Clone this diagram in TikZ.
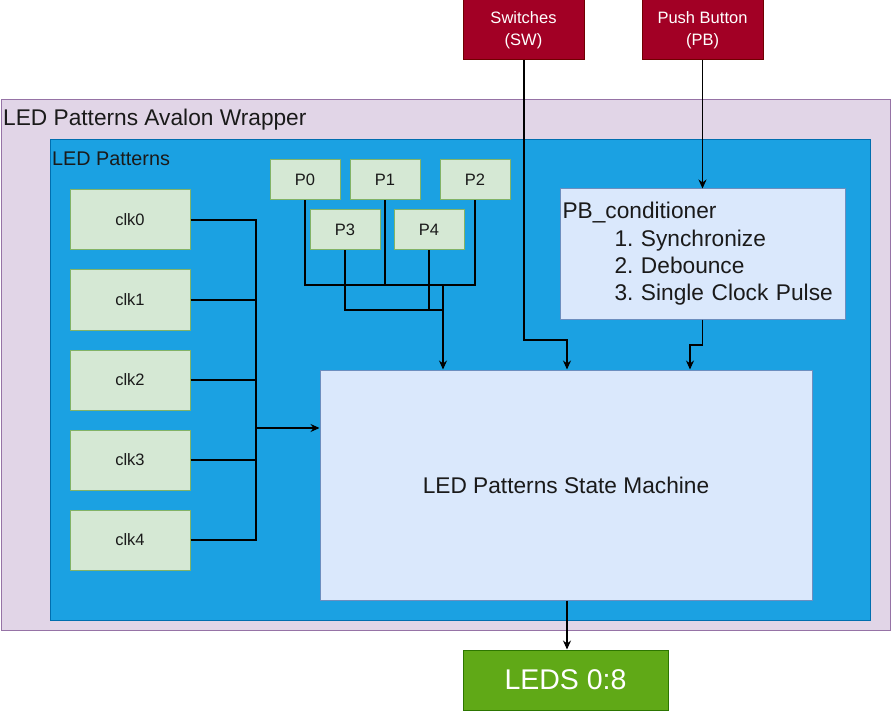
\documentclass[tikz,border=0pt]{standalone}
\usepackage{fontspec}
\setmainfont{Liberation Sans}
\usetikzlibrary{arrows.meta}
\frenchspacing
\definecolor{wrapfill}{HTML}{E1D5E7}
\definecolor{wrapdraw}{HTML}{9673A6}
\definecolor{ledfill}{HTML}{1BA1E2}
\definecolor{leddraw}{HTML}{006EAF}
\definecolor{gfill}{HTML}{D5E8D4}
\definecolor{gdraw}{HTML}{82B366}
\definecolor{bfill}{HTML}{DAE8FC}
\definecolor{bdraw}{HTML}{6C8EBF}
\definecolor{rfill}{HTML}{A20025}
\definecolor{rdraw}{HTML}{6F0000}
\definecolor{lfill}{HTML}{60A917}
\definecolor{ldraw}{HTML}{2D7600}
\definecolor{txt}{HTML}{1A1A1A}
\tikzset{
  smallbox/.style={draw=gdraw, fill=gfill, line width=1pt, minimum width=#1, inner sep=0pt, text=txt,
    font=\fontsize{16.5}{19}\selectfont},
  clkbox/.style={smallbox=120pt, minimum height=60pt},
  pbox/.style={smallbox=70pt, minimum height=40pt},
  bluebox/.style={draw=bdraw, fill=bfill, line width=1pt, inner sep=2pt, text=txt},
  redbox/.style={draw=rdraw, fill=rfill, line width=1pt, minimum width=121pt, minimum height=60pt,
    inner sep=0pt, text=white, align=center, font=\fontsize{16.5}{22}\selectfont},
  conn/.style={line width=1.1pt, draw=black},
  arr/.style={conn, -{Stealth[length=9pt,width=8pt]}},
  title/.style={inner sep=0pt, anchor=west, text=txt}
}
\begin{document}
\begin{tikzpicture}[x=1pt,y=-1pt]
\useasboundingbox (0,0) rectangle (891,711);
% wrapper
\node[draw=wrapdraw, fill=wrapfill, line width=1pt, minimum width=889pt, minimum height=530pt, inner sep=0pt] (wrap) at (445.5,365) {};
\node[title, font=\fontsize{22.7}{27}\selectfont] (wraplbl) at (3,120) {LED Patterns Avalon Wrapper};
% LED patterns
\node[draw=leddraw, fill=ledfill, line width=1pt, minimum width=820pt, minimum height=480pt, inner sep=0pt] (ledp) at (460,380) {};
\node[title, font=\fontsize{19.8}{24}\selectfont] (ledlbl) at (52,159) {LED Patterns};
% clocks
\node[clkbox] (clk0) at (130,220) {clk0};
\node[clkbox] (clk1) at (130,300) {clk1};
\node[clkbox] (clk2) at (130,380) {clk2};
\node[clkbox] (clk3) at (130,460) {clk3};
\node[clkbox] (clk4) at (130,540) {clk4};
% patterns
\node[pbox] (p0) at (305,180) {P0};
\node[pbox] (p1) at (385,180) {P1};
\node[pbox] (p2) at (475,180) {P2};
\node[pbox] (p3) at (345,230) {P3};
\node[pbox] (p4) at (429,230) {P4};
% state machine
\node[bluebox, minimum width=492pt, minimum height=230pt, font=\fontsize{22.7}{27}\selectfont] (sm) at (566,485) {LED Patterns State Machine};
% PB conditioner
\node[bluebox, minimum width=285pt, minimum height=130pt, text width=280pt, align=left,
  font=\fontsize{22.7}{27.3}\selectfont] (pbc) at (702.5,254)
  {PB\_conditioner\\\hspace*{52pt}1. Synchronize\\\hspace*{52pt}2. Debounce\\\hspace*{52pt}3. Single Clock Pulse};
% inputs
\node[redbox] (sw) at (523.5,30) {Switches\\(SW)};
\node[redbox] (pb) at (702.5,30) {Push Button\\(PB)};
% output
\node[draw=ldraw, fill=lfill, line width=1pt, minimum width=205pt, minimum height=60pt, inner sep=0pt,
  text=white, font=\fontsize{28.5}{34}\selectfont] (leds) at (565.5,680) {LEDS 0:8};
% junction coordinates
\coordinate (bus) at (256,428);
\coordinate (pj1) at (443,285);
\coordinate (pj2) at (443,310);
\coordinate (swc) at (567,340);
\coordinate (pbk) at (690,345);
% clock connectors
\foreach \c in {clk0,clk1,clk2,clk3,clk4} {\draw[conn] (\c.east) -| (bus);}
\draw[arr] (bus) -- (bus -| sm.west);
% pattern connectors
\foreach \p in {p0,p1,p2} {\draw[conn] (\p.south) |- (pj1);}
\foreach \p in {p3,p4} {\draw[conn] (\p.south) |- (pj2);}
\draw[arr] (pj1) -- (pj1 |- sm.north);
% switches
\draw[arr] ([xshift=0.5pt]sw.south) |- (swc) -- (swc |- sm.north);
% push button
\draw[arr] (pb.south) -- (pbc.north);
\draw[arr] (pbc.south) |- (pbk) -- (pbk |- sm.north);
% output
\draw[arr] ([xshift=1pt]sm.south) -- ([xshift=1.5pt]leds.north);
\end{tikzpicture}
\end{document}
